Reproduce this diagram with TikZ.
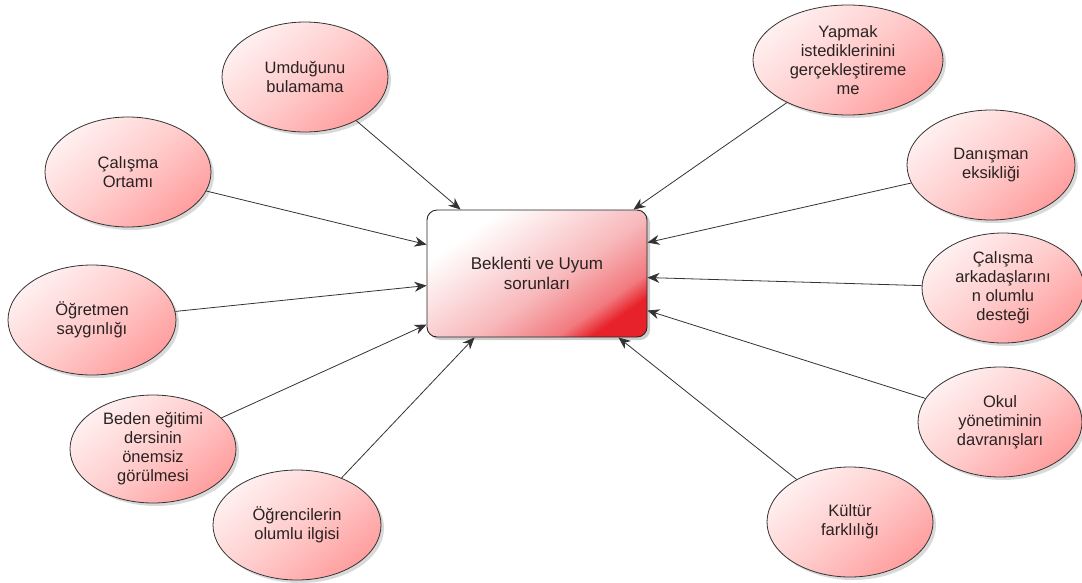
\documentclass[tikz,border=0pt]{standalone}
\usepackage{fontspec}
\setmainfont{Liberation Sans}
\usetikzlibrary{shapes.geometric,arrows.meta,shadows}
\definecolor{txt}{HTML}{2A2222}
\definecolor{boxred}{HTML}{E8222A}
\pgfdeclareverticalshading{ellshade}{100bp}{%
  color(0bp)=(red!38!white); color(25bp)=(red!38!white);
  color(50bp)=(red!20!white); color(75bp)=(red!6!white); color(100bp)=(red!6!white)}
\pgfdeclareverticalshading{boxshade}{100bp}{%
  color(0bp)=(boxred); color(25bp)=(boxred);
  color(31bp)=(boxred!60!white); color(45bp)=(boxred!32!white);
  color(60bp)=(boxred!14!white); color(72bp)=(white); color(100bp)=(white)}
\begin{document}
\begin{tikzpicture}[x=1pt,y=-1pt,
  bub/.style={ellipse, draw=black!80, line width=0.8pt, inner sep=0pt,
    align=center, font=\fontsize{16.5}{19}\selectfont, text=txt,
    shading=ellshade, shading angle=40,
    drop shadow={shadow xshift=3pt, shadow yshift=-3pt, opacity=0.15, fill=black}},
  mainbox/.style={rectangle, rounded corners=10pt, draw=black!85, line width=0.9pt,
    minimum width=220pt, minimum height=127pt, inner sep=0pt, align=center,
    font=\fontsize{17}{20}\selectfont, text=txt,
    shading=boxshade, shading angle=35,
    drop shadow={shadow xshift=3pt, shadow yshift=-3pt, opacity=0.2, fill=black}},
  conn/.style={draw=black!80, line width=0.8pt, -{Stealth[length=12pt,width=10pt]}}
]
\useasboundingbox (0,0) rectangle (1082,582);
\fill[white] (0,0) rectangle (1082,582);

\node[mainbox] (box) at (537,273.5) {Beklenti ve Uyum\\sorunları};

\node[bub, minimum width=166pt, minimum height=110pt] (umd) at (305,77) {Umduğunu\\bulamama};
\node[bub, minimum width=166pt, minimum height=110pt] (cal) at (128,172) {Çalışma\\Ortamı};
\node[bub, minimum width=168pt, minimum height=110pt] (ogr) at (92,320) {Öğretmen\\saygınlığı};
\node[bub, minimum width=166pt, minimum height=108pt] (bed) at (153,449) {Beden eğitimi\\dersinin\\önemsiz\\görülmesi};
\node[bub, minimum width=168pt, minimum height=110pt] (ogc) at (297,525) {Öğrencilerin\\olumlu ilgisi};
\node[bub, minimum width=190pt, minimum height=110pt] (yap) at (848,60) {Yapmak\\istediklerinini\\gerçekleştireme\\me};
\node[bub, minimum width=168pt, minimum height=110pt] (dan) at (991,165) {Danışman\\eksikliği};
\node[bub, minimum width=162pt, minimum height=110pt] (ark) at (1003,288) {Çalışma\\arkadaşlarını\\n olumlu\\desteği};
\node[bub, minimum width=164pt, minimum height=110pt] (okul) at (1000,422) {Okul\\yönetiminin\\davranışları};
\node[bub, minimum width=166pt, minimum height=110pt] (kul) at (850,522) {Kültür\\farklılığı};

\draw[conn] (umd) -- ([xshift=34pt]box.north west);
\draw[conn] (cal) -- ([yshift=-35pt]box.north west);
\draw[conn] (ogr) -- ([yshift=-76pt]box.north west);
\draw[conn] (bed) -- ([yshift=-115pt]box.north west);
\draw[conn] (ogc) -- ([xshift=48pt]box.south west);
\draw[conn] (yap) -- ([xshift=-14pt]box.north east);
\draw[conn] (dan) -- ([yshift=-33pt]box.north east);
\draw[conn] (ark) -- ([yshift=-68pt]box.north east);
\draw[conn] (okul) -- ([yshift=-101pt]box.north east);
\draw[conn] (kul) -- ([xshift=-29pt]box.south east);
\end{tikzpicture}
\end{document}
